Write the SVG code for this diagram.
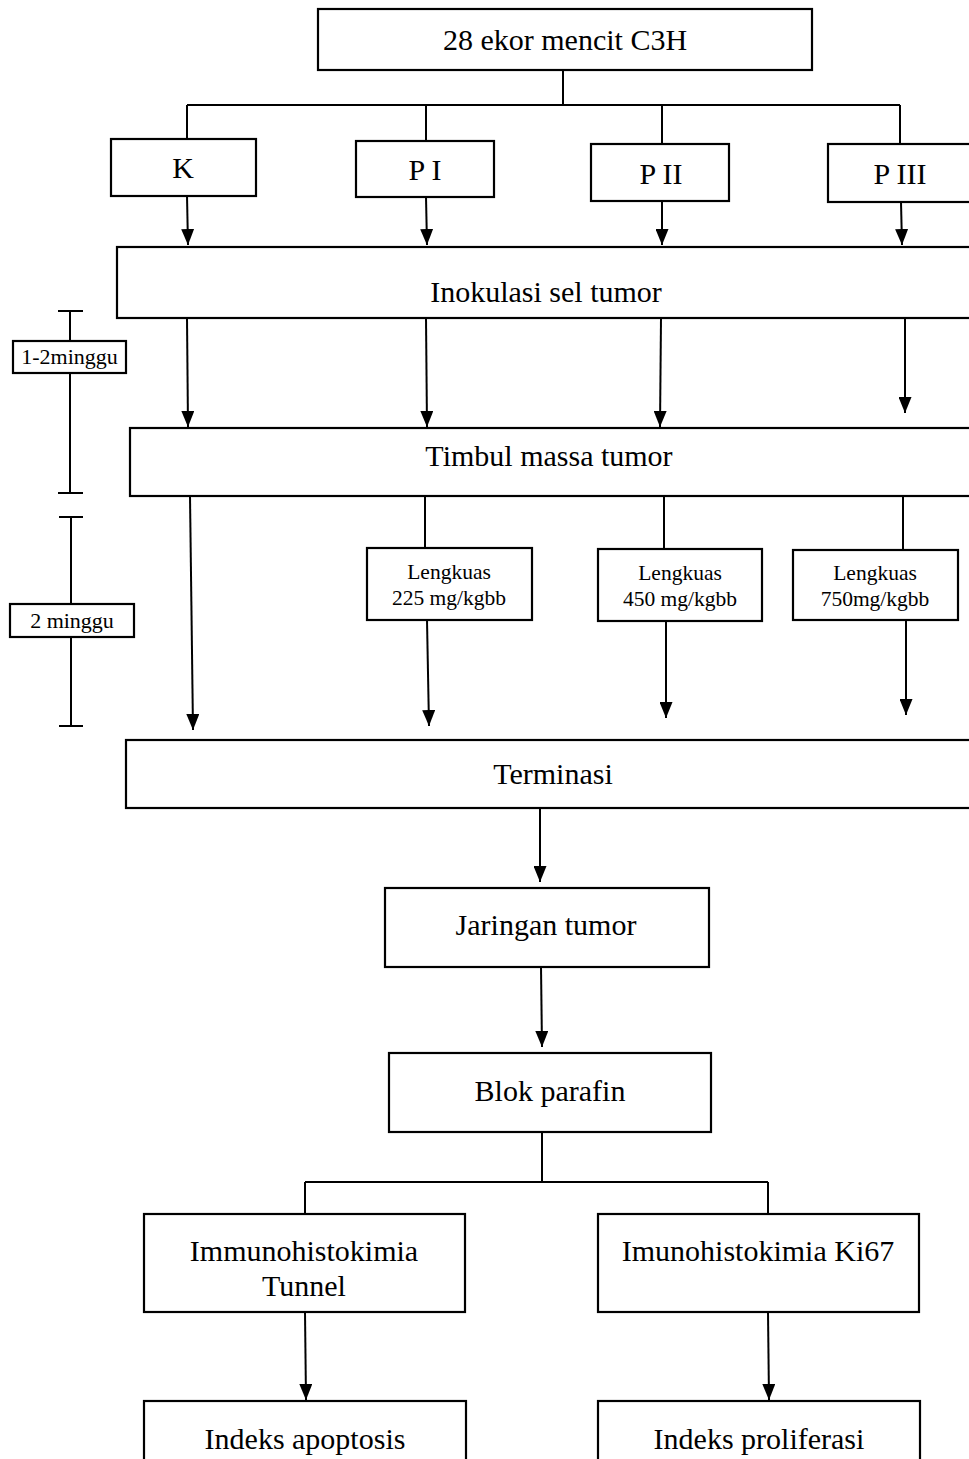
<svg xmlns="http://www.w3.org/2000/svg" width="969" height="1459" viewBox="0 0 969 1459">
<style>
.b{fill:#fff;stroke:#000;stroke-width:2.2}
.l{fill:none;stroke:#000;stroke-width:2}
.a{fill:none;stroke:#000;stroke-width:2;marker-end:url(#ah)}
text{font-family:"Liberation Serif","Times New Roman",serif;fill:#000;text-anchor:middle}
.t28{font-size:30px}
.t22{font-size:21.5px}
.t2{font-size:22px}
</style>
<defs>
<marker id="ah" markerUnits="userSpaceOnUse" markerWidth="17" markerHeight="13" refX="16" refY="6.5" orient="auto"><path d="M0,0 L16,6.5 L0,13 z" fill="#000"/></marker>
</defs>
<rect width="969" height="1459" fill="#fff"/>
<g id="connectors">
<path class="l" d="M563,70 V105 M187,105 H900 M187,105 V139 M426,105 V141 M662,105 V144 M900,105 V144"/>
<path class="a" d="M187,196 L188,245"/>
<path class="a" d="M426,197 L427,245"/>
<path class="a" d="M662,201 L662,245"/>
<path class="a" d="M901,202 L902,245"/>
<path class="a" d="M187,318 L188,427"/>
<path class="a" d="M426,318 L427,427"/>
<path class="a" d="M661,318 L660,427"/>
<path class="a" d="M905,318 L905,413"/>
<path class="a" d="M190,496 L193,730"/>
<path class="l" d="M425,496 V548 M664,496 V549 M903,496 V550"/>
<path class="a" d="M427,620 L429,726"/>
<path class="a" d="M666,621 L666,718"/>
<path class="a" d="M906,620 L906,715"/>
<path class="a" d="M540,808 L540,882"/>
<path class="a" d="M541,967 L542,1047"/>
<path class="l" d="M542,1132 V1182 M305,1182 H768 M305,1182 V1214 M768,1182 V1214"/>
<path class="a" d="M305,1312 L306,1400"/>
<path class="a" d="M768,1312 L769,1400"/>
</g>
<g id="timeline">
<path class="l" d="M70,311 V341 M70,373 V493 M58,311 H83 M58,493 H83"/>
<path class="l" d="M71,517 V604 M71,637 V726 M59,517 H83 M59,726 H83"/>
<g id="lbl1"><rect class="b" x="13" y="341" width="113" height="32"/><text class="t2" x="69.5" y="364">1-2minggu</text></g>
<g id="lbl2"><rect class="b" x="10" y="604" width="124" height="33"/><text class="t2" x="72" y="628">2 minggu</text></g>
</g>
<g id="n-top"><rect class="b" x="318" y="9" width="494" height="61"/><text class="t28" x="565" y="50">28 ekor mencit C3H</text></g>
<g id="n-k"><rect class="b" x="111" y="139" width="145" height="57"/><text class="t28" x="183" y="178">K</text></g>
<g id="n-p1"><rect class="b" x="356" y="141" width="138" height="56"/><text class="t28" x="425" y="180">P I</text></g>
<g id="n-p2"><rect class="b" x="591" y="144" width="138" height="57"/><text class="t28" x="661" y="184">P II</text></g>
<g id="n-p3"><rect class="b" x="828" y="144" width="150" height="58"/><text class="t28" x="900" y="184">P III</text></g>
<g id="n-inok"><rect class="b" x="117" y="247" width="870" height="71"/><text class="t28" x="546" y="302">Inokulasi sel tumor</text></g>
<g id="n-timbul"><rect class="b" x="130" y="428" width="850" height="68"/><text class="t28" x="549" y="466">Timbul massa tumor</text></g>
<g id="n-l1"><rect class="b" x="367" y="548" width="165" height="72"/><text class="t22" x="449" y="579">Lengkuas</text><text class="t22" x="449" y="605">225 mg/kgbb</text></g>
<g id="n-l2"><rect class="b" x="598" y="549" width="164" height="72"/><text class="t22" x="680" y="580">Lengkuas</text><text class="t22" x="680" y="606">450 mg/kgbb</text></g>
<g id="n-l3"><rect class="b" x="793" y="550" width="165" height="70"/><text class="t22" x="875" y="580">Lengkuas</text><text class="t22" x="875" y="606">750mg/kgbb</text></g>
<g id="n-term"><rect class="b" x="126" y="740" width="860" height="68"/><text class="t28" x="553" y="784">Terminasi</text></g>
<g id="n-jar"><rect class="b" x="385" y="888" width="324" height="79"/><text class="t28" x="546" y="935">Jaringan tumor</text></g>
<g id="n-blok"><rect class="b" x="389" y="1053" width="322" height="79"/><text class="t28" x="550" y="1101">Blok parafin</text></g>
<g id="n-tunnel"><rect class="b" x="144" y="1214" width="321" height="98"/><text class="t28" x="304" y="1261">Immunohistokimia</text><text class="t28" x="304" y="1296">Tunnel</text></g>
<g id="n-ki67"><rect class="b" x="598" y="1214" width="321" height="98"/><text class="t28" x="758" y="1261">Imunohistokimia Ki67</text></g>
<g id="n-apop"><rect class="b" x="144" y="1401" width="322" height="80"/><text class="t28" x="305" y="1449">Indeks apoptosis</text></g>
<g id="n-prol"><rect class="b" x="598" y="1401" width="322" height="80"/><text class="t28" x="759" y="1449">Indeks proliferasi</text></g>
</svg>
